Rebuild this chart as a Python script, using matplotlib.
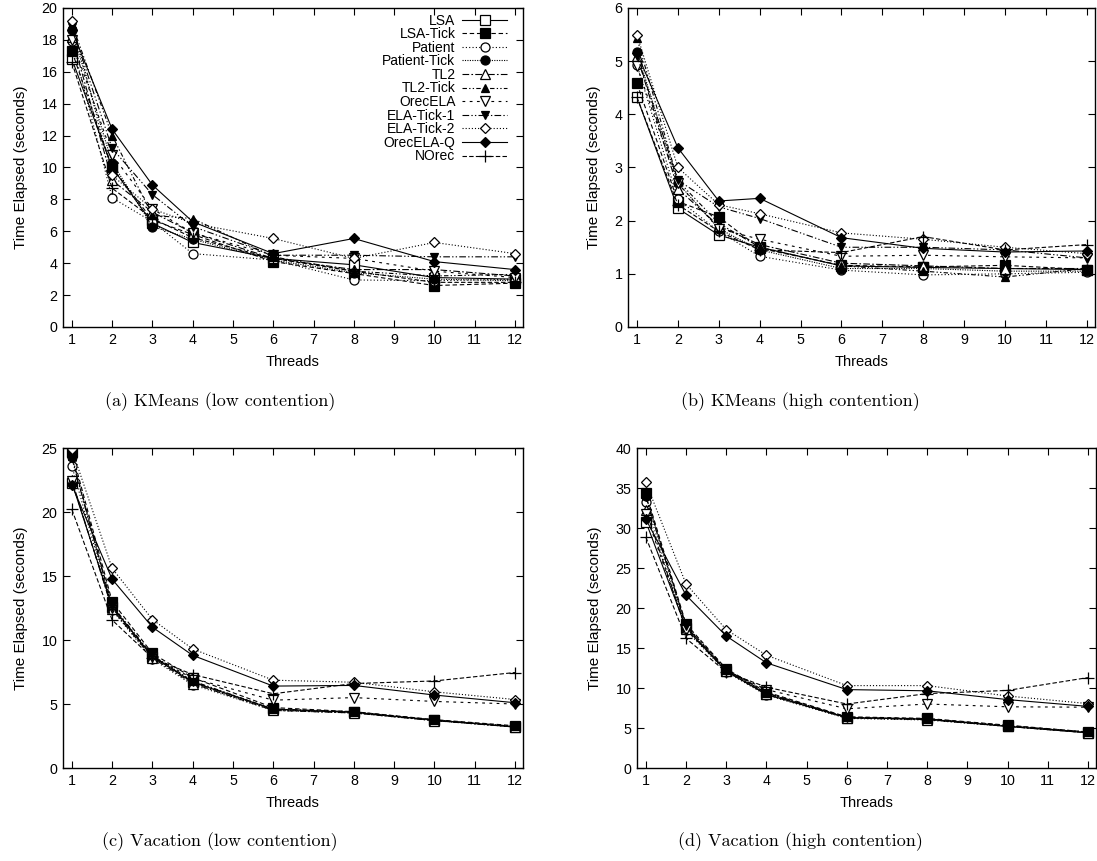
import matplotlib
matplotlib.use("Agg")
import matplotlib.pyplot as plt

threads = [1, 2, 3, 4, 6, 8, 10, 12]
names = ["LSA", "LSA-Tick", "Patient", "Patient-Tick", "TL2", "TL2-Tick",
         "OrecELA", "ELA-Tick-1", "ELA-Tick-2", "OrecELA-Q", "NOrec"]

# (a) KMeans (low contention)
kl_lsa = [16.8, 10.0, 6.5, 5.3, 4.3, 3.9, 3.1, 3.0]
kl_lsa_tick = [17.3, 10.0, 6.7, 5.8, 4.1, 3.35, 2.6, 2.75]
kl_patient = [17.9, 8.1, 6.6, 4.6, 4.2, 2.95, 2.9, 3.0]
kl_patient_tick = [18.6, 10.3, 6.3, 5.5, 4.2, 3.4, 3.0, 2.9]
kl_tl2 = [18.2, 9.2, 7.2, 5.9, 4.3, 3.6, 3.6, 3.2]
kl_tl2_tick = [19.0, 12.0, 7.0, 6.8, 4.4, 3.5, 3.2, 3.3]
kl_orecela = [18.0, 10.8, 7.4, 5.9, 4.5, 4.3, 3.5, 3.1]
kl_ela_tick1 = [18.8, 11.2, 8.3, 6.3, 4.5, 4.5, 4.4, 4.4]
kl_ela_tick2 = [19.2, 9.5, 7.4, 6.5, 5.55, 4.3, 5.3, 4.6]
kl_orecela_q = [18.6, 12.4, 8.9, 6.6, 4.6, 5.55, 4.1, 3.6]
kl_norec = [16.6, 8.7, 6.8, 5.6, 4.3, 3.5, 2.8, 2.8]

# (b) KMeans (high contention)
kh_lsa = [4.32, 2.23, 1.73, 1.5, 1.15, 1.12, 1.1, 1.08]
kh_lsa_tick = [4.58, 2.36, 2.07, 1.48, 1.16, 1.13, 1.16, 1.08]
kh_patient = [4.93, 2.4, 1.8, 1.33, 1.07, 0.98, 1.0, 1.03]
kh_patient_tick = [5.18, 2.71, 1.85, 1.45, 1.1, 1.1, 1.05, 1.05]
kh_tl2 = [5.1, 2.6, 1.9, 1.55, 1.2, 1.15, 1.1, 1.1]
kh_tl2_tick = [5.43, 2.75, 1.95, 1.5, 1.15, 1.05, 0.94, 1.1]
kh_orecela = [4.9, 2.7, 1.85, 1.65, 1.33, 1.35, 1.32, 1.3]
kh_ela_tick1 = [5.1, 2.76, 2.26, 2.04, 1.5, 1.5, 1.45, 1.3]
kh_ela_tick2 = [5.5, 3.0, 2.3, 2.13, 1.77, 1.65, 1.5, 1.38]
kh_orecela_q = [5.15, 3.37, 2.37, 2.42, 1.68, 1.48, 1.41, 1.43]
kh_norec = [4.32, 2.3, 1.8, 1.45, 1.4, 1.7, 1.45, 1.55]

# (c) Vacation (low contention)
vl_lsa = [22.3, 12.6, 8.7, 6.7, 4.6, 4.35, 3.75, 3.2]
vl_lsa_tick = [24.7, 13.0, 8.95, 7.05, 4.72, 4.4, 3.78, 3.3]
vl_patient = [23.6, 12.35, 8.5, 6.5, 4.5, 4.3, 3.7, 3.2]
vl_patient_tick = [24.3, 12.5, 8.7, 6.7, 4.55, 4.35, 3.72, 3.22]
vl_tl2 = [22.5, 12.4, 8.6, 6.6, 4.5, 4.3, 3.7, 3.2]
vl_tl2_tick = [24.4, 12.7, 8.8, 6.8, 4.6, 4.4, 3.75, 3.25]
vl_orecela = [22.4, 12.5, 8.7, 7.0, 5.3, 5.5, 5.2, 5.0]
vl_ela_tick1 = [24.2, 12.6, 8.75, 6.75, 4.6, 4.35, 3.72, 3.25]
vl_ela_tick2 = [24.9, 15.6, 11.6, 9.3, 6.86, 6.7, 5.95, 5.35]
vl_orecela_q = [22.1, 14.75, 11.0, 8.8, 6.4, 6.45, 5.7, 5.1]
vl_norec = [20.2, 11.56, 8.6, 7.3, 5.8, 6.6, 6.8, 7.46]

# (d) Vacation (high contention)
vh_lsa = [30.8, 17.5, 12.1, 9.2, 6.3, 6.1, 5.2, 4.4]
vh_lsa_tick = [34.4, 18.0, 12.4, 9.5, 6.4, 6.2, 5.35, 4.5]
vh_patient = [33.3, 17.2, 12.0, 9.1, 6.2, 6.0, 5.2, 4.4]
vh_patient_tick = [34.0, 17.6, 12.2, 9.3, 6.3, 6.1, 5.25, 4.45]
vh_tl2 = [32.2, 17.4, 12.1, 9.2, 6.25, 6.05, 5.2, 4.4]
vh_tl2_tick = [34.1, 17.8, 12.3, 9.4, 6.35, 6.15, 5.3, 4.5]
vh_orecela = [31.8, 17.3, 12.2, 9.8, 7.4, 8.0, 7.65, 7.6]
vh_ela_tick1 = [33.9, 17.7, 12.3, 9.35, 6.3, 6.1, 5.25, 4.45]
vh_ela_tick2 = [35.7, 23.0, 17.3, 14.1, 10.3, 10.3, 9.0, 8.05]
vh_orecela_q = [31.1, 21.6, 16.5, 13.15, 9.8, 9.65, 8.55, 7.7]
vh_norec = [28.85, 16.2, 12.0, 10.1, 8.0, 9.3, 9.7, 11.3]

panels = [
    ([kl_lsa, kl_lsa_tick, kl_patient, kl_patient_tick, kl_tl2, kl_tl2_tick,
      kl_orecela, kl_ela_tick1, kl_ela_tick2, kl_orecela_q, kl_norec],
     20, 2, "(a) KMeans (low contention)"),
    ([kh_lsa, kh_lsa_tick, kh_patient, kh_patient_tick, kh_tl2, kh_tl2_tick,
      kh_orecela, kh_ela_tick1, kh_ela_tick2, kh_orecela_q, kh_norec],
     6, 1, "(b) KMeans (high contention)"),
    ([vl_lsa, vl_lsa_tick, vl_patient, vl_patient_tick, vl_tl2, vl_tl2_tick,
      vl_orecela, vl_ela_tick1, vl_ela_tick2, vl_orecela_q, vl_norec],
     25, 5, "(c) Vacation (low contention)"),
    ([vh_lsa, vh_lsa_tick, vh_patient, vh_patient_tick, vh_tl2, vh_tl2_tick,
      vh_orecela, vh_ela_tick1, vh_ela_tick2, vh_orecela_q, vh_norec],
     40, 5, "(d) Vacation (high contention)"),
]

# style: (linestyle, marker, filled, markersize)
styles = [
    ("-", "s", False, 6.5),
    ((0, (4, 2.5)), "s", True, 6.5),
    ((0, (1, 2)), "o", False, 6.5),
    ((0, (1, 1.2)), "o", True, 6.5),
    ((0, (6, 2, 1.5, 2)), "^", False, 6.5),
    ((0, (4, 2, 1.2, 2, 1.2, 2)), "^", True, 6.0),
    ((0, (2.5, 4)), "v", False, 6.5),
    ((0, (6, 2, 1.2, 2, 1.2, 2)), "v", True, 6.0),
    ((0, (1, 1.8)), "D", False, 5.0),
    ("-", "D", True, 5.0),
    ((0, (4, 2)), "+", False, 8.0),
]

plt.rcParams['font.family'] = ['Liberation Sans', 'DejaVu Sans']
plt.rcParams['font.size'] = 10

fig = plt.figure(figsize=(10.97, 8.61), dpi=100)
W, H = 1097.0, 861.0
boxes = [(63, 8, 523, 327), (628, 8, 1095, 327),
         (63, 448, 523, 768), (637, 448, 1096, 768)]
cap_x = [220, 800, 220, 800]
cap_y = [402, 402, 842, 842]

for i, ((series, ymax, ystep, caption), (l, t, r, b)) in enumerate(zip(panels, boxes)):
    ax = fig.add_axes([l / W, 1 - b / H, (r - l) / W, (b - t) / H])
    for name, vals, (ls, mk, filled, ms) in zip(names, series, styles):
        ax.plot(threads, vals, linestyle=ls, color="black", linewidth=0.8,
                marker=mk, markersize=ms, markeredgewidth=0.9,
                markeredgecolor="black",
                markerfacecolor="black" if filled else "white",
                label=name)
    ax.set_xlim(0.78, 12.2)
    ax.set_ylim(0, ymax)
    ax.set_xticks(range(1, 13))
    ax.set_yticks([v for v in range(0, ymax + 1, ystep)])
    ax.tick_params(direction="in", top=True, right=True, length=5,
                   width=0.8, labelsize=10.3, pad=4)
    for sp in ax.spines.values():
        sp.set_linewidth(1.0)
    ax.set_xlabel("Threads", fontsize=10.5, labelpad=6)
    ax.set_ylabel("Time Elapsed (seconds)", fontsize=11, labelpad=10)
    if i == 0:
        ax.legend(loc="upper right", markerfirst=False, frameon=False,
                  fontsize=10, handlelength=3.2, handletextpad=0.5,
                  labelspacing=-0.03, borderaxespad=0.0,
                  bbox_to_anchor=(0.977, 1.0))
    fig.text(cap_x[i] / W, 1 - cap_y[i] / H, caption, ha="center", va="center",
             fontsize=13, family="cmr10")

fig.savefig("out.png", dpi=100)
